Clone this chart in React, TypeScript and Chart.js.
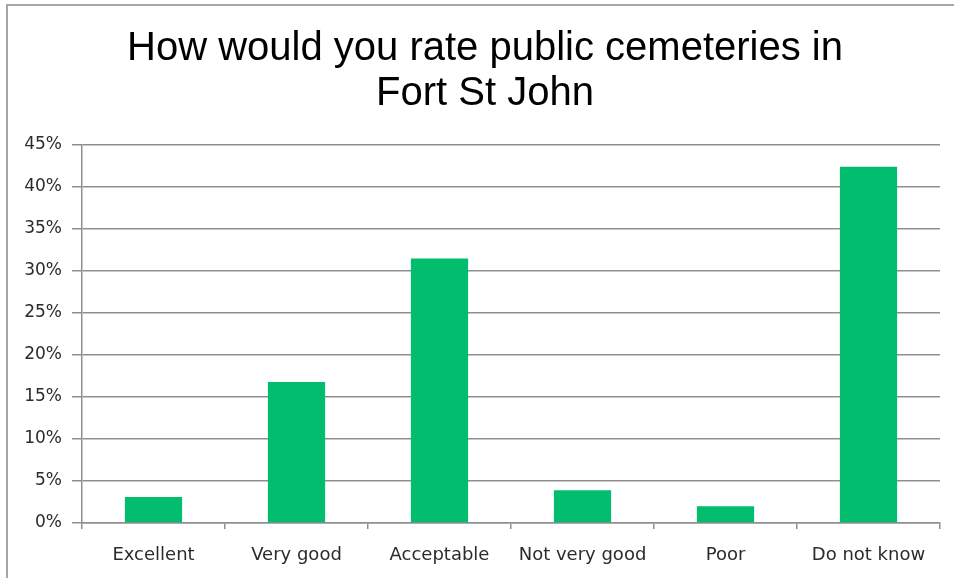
import React, { useEffect, useRef } from "react";
import { Chart, registerables } from "chart.js";

Chart.register(...registerables);

const categories = ["Excellent", "Very good", "Acceptable", "Not very good", "Poor", "Do not know"];
const shares = [3.1, 16.8, 31.5, 3.9, 2.0, 42.4];
const titleLines = ["How would you rate public cemeteries in", "Fort St John"];
const yTicks = [0, 5, 10, 15, 20, 25, 30, 35, 40, 45];

const shiftTitle = {
  id: "shiftTitle",
  afterLayout(chart: any) {
    const t = chart.titleBlock;
    if (t) {
      t.left = 30;
      t.right = 940;
      t.width = 910;
    }
  },
};

export default function App() {
  const ref = useRef<HTMLCanvasElement | null>(null);

  useEffect(() => {
    document.body.style.margin = "0";
    document.body.style.background = "#ffffff";
    const ctx = ref.current!;
    const chart = new Chart(ctx, {
      type: "bar",
      data: {
        labels: categories,
        datasets: [
          {
            data: shares,
            backgroundColor: "#02BD6E",
            borderWidth: 0,
            barPercentage: 0.8,
            categoryPercentage: 0.5,
          },
        ],
      },
      plugins: [shiftTitle],
      options: {
        animation: false,
        responsive: false,
        maintainAspectRatio: false,
        layout: { padding: { left: 0, right: 14, top: 0, bottom: 0 } },
        plugins: {
          legend: { display: false },
          tooltip: { enabled: false },
          title: {
            display: true,
            text: titleLines,
            color: "#000000",
            font: { family: "'Liberation Sans', Arial, sans-serif", size: 40, weight: "normal", lineHeight: 1.125 },
            padding: { top: 26, bottom: 29 },
          },
        },
        scales: {
          x: {
            grid: {
              display: true,
              drawOnChartArea: false,
              drawTicks: true,
              tickLength: 6,
              color: "#8f8f8f",
              lineWidth: 1.5,
            },
            border: { display: true, color: "#8f8f8f", width: 1.5 },
            ticks: {
              color: "#2b2b2b",
              font: { family: "'DejaVu Sans', Verdana, sans-serif", size: 18 },
              padding: 16,
              maxRotation: 0,
              autoSkip: false,
            },
            afterFit: (s: any) => {
              s.height = 55;
            },
          },
          y: {
            min: 0,
            max: 45,
            afterBuildTicks: (s: any) => {
              s.ticks = yTicks.map((v) => ({ value: v }));
            },
            grid: {
              color: "#8f8f8f",
              lineWidth: 1.5,
              drawTicks: true,
              tickLength: 10,
            },
            border: { display: true, color: "#8f8f8f", width: 1.5 },
            ticks: {
              color: "#2b2b2b",
              font: { family: "'DejaVu Sans', Verdana, sans-serif", size: 17 },
              padding: 10,
              callback: (v: any) => v + "%",
            },
            afterFit: (s: any) => {
              s.width = 82;
            },
          },
        },
      },
    });
    return () => chart.destroy();
  }, []);

  return (
    <div style={{ position: "fixed", left: 0, top: 0, width: 954, height: 578, background: "#fff", overflow: "hidden" }}>
      <div
        style={{
          position: "absolute",
          left: 6,
          top: 4,
          width: 1000,
          height: 700,
          borderTop: "2px solid #a6a6a6",
          borderLeft: "2px solid #a6a6a6",
        }}
      />
      <canvas ref={ref} width={954} height={578} style={{ position: "absolute", left: 0, top: 0, width: 954, height: 578 }} />
    </div>
  );
}
